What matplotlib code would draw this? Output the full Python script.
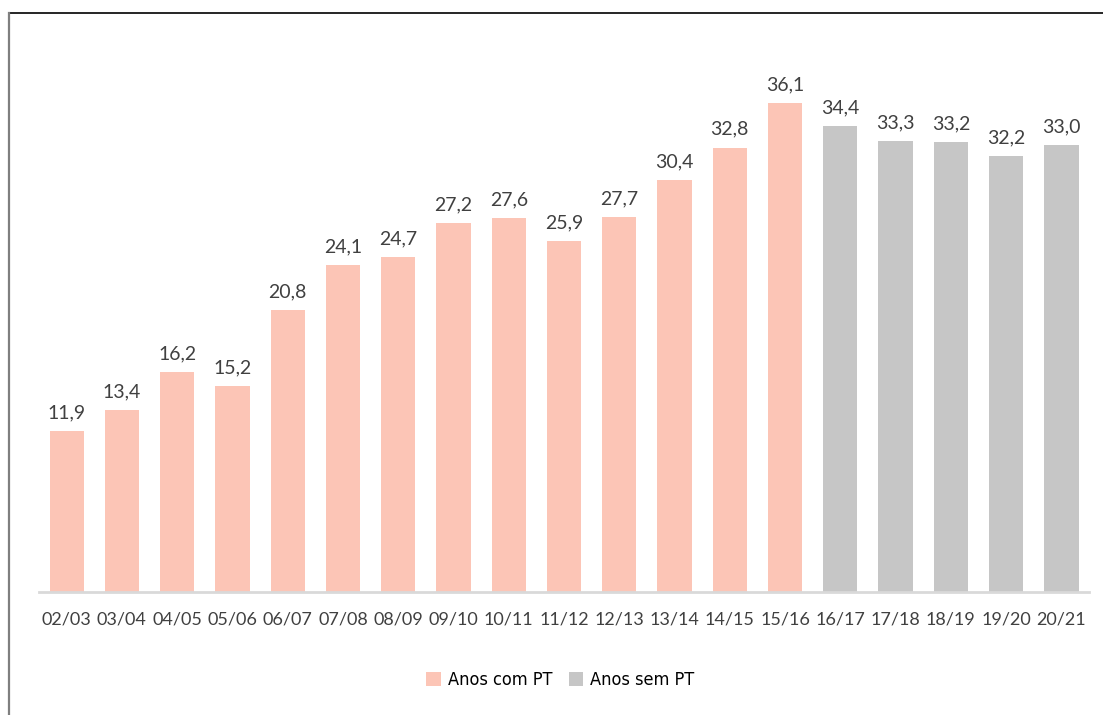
import matplotlib
matplotlib.use("Agg")
import matplotlib.pyplot as plt
from matplotlib.lines import Line2D
from matplotlib.patches import Patch

categories = ["02/03", "03/04", "04/05", "05/06", "06/07", "07/08", "08/09", "09/10",
              "10/11", "11/12", "12/13", "13/14", "14/15", "15/16", "16/17", "17/18",
              "18/19", "19/20", "20/21"]
values = [11.9, 13.4, 16.2, 15.2, 20.8, 24.1, 24.7, 27.2, 27.6, 25.9, 27.7, 30.4,
          32.8, 36.1, 34.4, 33.3, 33.2, 32.2, 33.0]
with_pt = [True] * 14 + [False] * 5
legend_labels = ["Anos com PT", "Anos sem PT"]

PINK = "#FCC5B6"
GRAY = "#C6C6C6"
TXT = "#404040"

plt.rcParams['font.family'] = ['Lato', 'DejaVu Sans']

fig = plt.figure(figsize=(11.03, 7.15), dpi=100)
ax = fig.add_axes([39/1103, (715-592)/715, (1089-39)/1103, (592-50)/715])

x = list(range(len(categories)))
colors = [PINK if w else GRAY for w in with_pt]
ax.bar(x, values, width=0.62, color=colors, zorder=2)

for xi, v in zip(x, values):
    ax.annotate(f"{v:.1f}".replace(".", ","), (xi, v), xytext=(0, 7),
                textcoords="offset points", ha="center", va="bottom",
                fontsize=14, color=TXT)

ax.set_xlim(-0.5, len(categories) - 0.5)
ax.set_ylim(0, 40)
ax.set_xticks(x)
ax.set_xticklabels(categories, fontsize=13, color=TXT)
ax.tick_params(axis="x", length=0, pad=14)
ax.set_yticks([])
for s in ["top", "right", "left"]:
    ax.spines[s].set_visible(False)
ax.spines["bottom"].set_color("#D9D9D9")
ax.spines["bottom"].set_linewidth(2)

handles = [Patch(facecolor=PINK, edgecolor="none"), Patch(facecolor=GRAY, edgecolor="none")]
fig.legend(handles, legend_labels, loc="center", bbox_to_anchor=(0.508, (715-680)/715),
           ncol=2, frameon=False, handlelength=0.8, handleheight=0.8,
           handletextpad=0.4, columnspacing=0.9,
           prop={'family': ['DejaVu Sans'], 'stretch': 'condensed', 'size': 13})

# frame lines
fig.add_artist(Line2D([8.5/1103, 1], [1 - 12.5/715, 1 - 12.5/715], color="black", lw=1.2,
                      transform=fig.transFigure))
fig.add_artist(Line2D([9/1103, 9/1103], [0, 1 - 12.5/715], color="#7F7F7F", lw=1.6,
                      transform=fig.transFigure))

fig.savefig("out.png", dpi=100)
